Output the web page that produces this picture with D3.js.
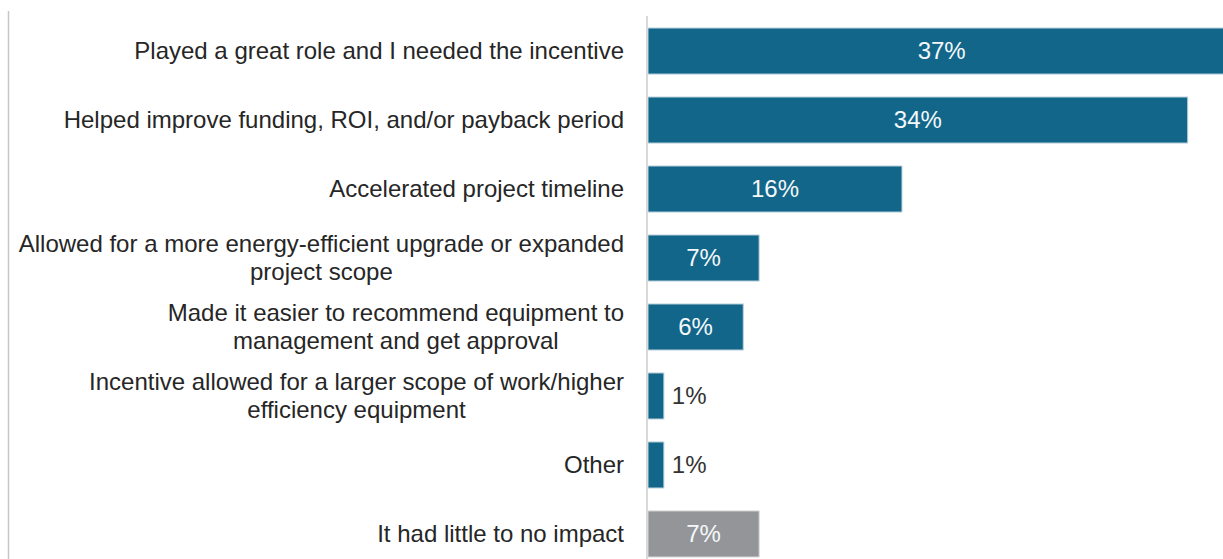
<!DOCTYPE html>
<html>
<head>
<meta charset="utf-8">
<script src="https://cdn.jsdelivr.net/npm/d3@7"></script>
<style>
  html, body { margin: 0; padding: 0; background: #fff; }
  svg { display: block; }
  text { font-family: "Liberation Sans Narrow", "Arial Narrow", "Liberation Sans", Arial, sans-serif; }
</style>
</head>
<body>
<svg id="chart" width="1223" height="559"></svg>
<script>
// Survey responses: role the incentive played in the project decision
const categories = [
  ["Played a great role and I needed the incentive"],
  ["Helped improve funding, ROI, and/or payback period"],
  ["Accelerated project timeline"],
  ["Allowed for a more energy-efficient upgrade or expanded", "project scope"],
  ["Made it easier to recommend equipment to", "management and get approval"],
  ["Incentive allowed for a larger scope of work/higher", "efficiency equipment"],
  ["Other"],
  ["It had little to no impact"]
];
const values = [37, 34, 16, 7, 6, 1, 1, 7];
const isNoImpact = [false, false, false, false, false, false, false, true];

const width = 1223, height = 559;
const axisX = 648;
const svg = d3.select("#chart");

const data = categories.map((lines, i) => ({ lines, value: values[i], gray: isNoImpact[i], key: i }));

const x = d3.scaleLinear().domain([0, 34]).range([axisX, 1187.7]);
const y = d3.scaleBand()
  .domain(data.map(d => d.key))
  .range([16.5, 16.5 + 69 * data.length])
  .paddingInner(0.333)
  .paddingOuter(0.167);

// outer frame line on the left
svg.append("line")
  .attr("x1", 8.5).attr("x2", 8.5).attr("y1", 11).attr("y2", height)
  .attr("stroke", "#c6c6c6").attr("stroke-width", 1.5);

// bars
svg.append("g").selectAll("rect")
  .data(data).join("rect")
  .attr("x", x(0))
  .attr("y", d => y(d.key))
  .attr("width", d => x(d.value) - x(0))
  .attr("height", y.bandwidth())
  .attr("fill", d => d.gray ? "#939598" : "#126689")
  .attr("stroke", d => d.gray ? "#d4d5d6" : "#b9d0dc")
  .attr("stroke-width", 1);

// category axis line
svg.append("line")
  .attr("x1", axisX - 1).attr("x2", axisX - 1).attr("y1", 16).attr("y2", height)
  .attr("stroke", "#d9d9d9").attr("stroke-width", 2);

// category labels: longest line right-aligned, lines centred on it
const labelRight = 624;
const lineH = 28;
const labels = svg.append("g").attr("font-size", 24).attr("fill", "#262626");
data.forEach(d => {
  const cy = y(d.key) + y.bandwidth() / 2;
  const g = labels.append("g");
  const texts = d.lines.map((ln, j) => g.append("text")
    .attr("y", cy + (j - (d.lines.length - 1) / 2) * lineH)
    .attr("dy", "0.35em")
    .text(ln));
  const widths = texts.map(t => t.node().getComputedTextLength());
  const maxW = d3.max(widths);
  const centre = labelRight - maxW / 2;
  texts.forEach(t => t.attr("x", centre).attr("text-anchor", "middle"));
});

// value labels
const fmt = v => v + "%";
svg.append("g").attr("font-size", 24).selectAll("text")
  .data(data).join("text")
  .attr("y", d => y(d.key) + y.bandwidth() / 2)
  .attr("dy", "0.35em")
  .attr("x", d => d.value >= 3 ? (x(0) + x(d.value)) / 2 : x(d.value) + 8)
  .attr("text-anchor", d => d.value >= 3 ? "middle" : "start")
  .attr("fill", d => d.value >= 3 ? "#f4f8fa" : "#333333")
  .text(d => fmt(d.value));
</script>
</body>
</html>
